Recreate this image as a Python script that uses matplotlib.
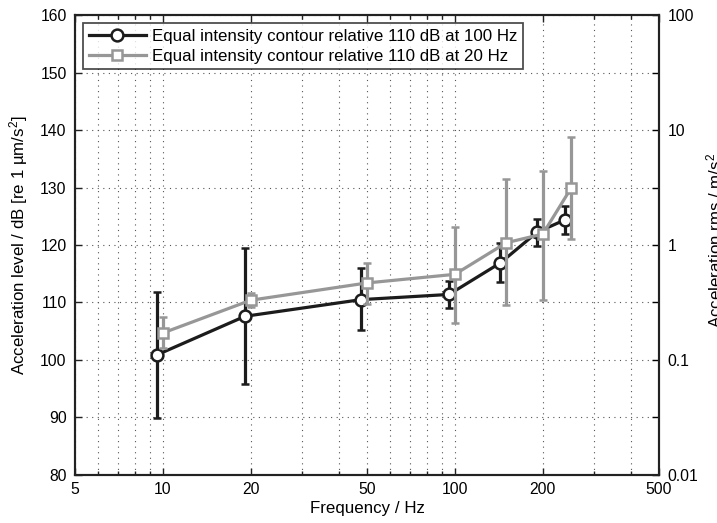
import numpy as np
import matplotlib
matplotlib.use("Agg")
import matplotlib.pyplot as plt
from matplotlib.lines import Line2D
from matplotlib.ticker import FixedLocator, NullFormatter, FixedFormatter

plt.rcParams['font.family'] = ['Liberation Sans', 'DejaVu Sans']
plt.rcParams['mathtext.fontset'] = 'custom'
plt.rcParams['mathtext.rm'] = 'Liberation Sans'
plt.rcParams['mathtext.it'] = 'Liberation Sans:italic'

# Stimulus frequencies (Hz)
freqs = [10, 20, 50, 100, 150, 200, 250]

# Equal intensity contour relative 110 dB at 100 Hz (dB re 1 um/s^2)
ref100_mean = [100.9, 107.6, 110.5, 111.4, 116.9, 122.2, 124.4]
ref100_upper = [111.9, 119.4, 116.0, 113.7, 120.3, 124.6, 126.8]
ref100_lower = [89.9, 95.8, 105.2, 109.0, 113.5, 119.8, 121.9]

# Equal intensity contour relative 110 dB at 20 Hz
ref20_mean = [104.7, 110.4, 113.4, 114.9, 120.4, 121.9, 129.9]
ref20_upper = [107.4, 111.6, 116.9, 123.2, 131.4, 132.8, 138.7]
ref20_lower = [102.0, 109.2, 109.8, 106.4, 109.6, 110.4, 121.0]

labels = ['Equal intensity contour relative 110 dB at 100 Hz',
          'Equal intensity contour relative 110 dB at 20 Hz']

xticks = [5, 10, 20, 50, 100, 200, 500]
yticks = [80, 90, 100, 110, 120, 130, 140, 150, 160]
right_ticks = [0.01, 0.1, 1, 10, 100]
right_ticklabels = ['0.01', '0.1', '1', '10', '100']

TICK_FS = 11.3
LABEL_FS = 12.2
BLACK = '#1c1c1c'
GREY = '#979797'

fig = plt.figure(figsize=(7.17, 5.23), dpi=100)
ax = fig.add_axes([0.1046, 0.0918, 0.8145, 0.8795])

def draw(mean, upper, lower, shift, color, marker, ms, z):
    m = np.array(mean)
    f = np.array(freqs) * shift
    yerr = [m - np.array(lower), np.array(upper) - m]
    ax.errorbar(f, m, yerr=yerr, color=color, lw=2.3, elinewidth=2.3,
                capsize=3.2, capthick=2.3, marker=marker, ms=ms,
                mfc='white', mec=color, mew=1.8, zorder=z)

draw(ref100_mean, ref100_upper, ref100_lower, 0.955, BLACK, 'o', 8.5, 3)
draw(ref20_mean, ref20_upper, ref20_lower, 1.0, GREY, 's', 6.8, 4)

ax.set_xscale('log')
ax.set_xlim(5, 500)
ax.set_ylim(80, 160)
ax.set_xticks(xticks)
ax.set_xticklabels([str(t) for t in xticks])
ax.xaxis.set_minor_locator(FixedLocator([6, 7, 8, 9, 30, 40, 60, 70, 80, 90, 300, 400]))
ax.xaxis.set_minor_formatter(NullFormatter())
ax.set_yticks(yticks)

ax.grid(True, which='both', axis='x', color='#555555', lw=0.8, ls=(0, (1, 4)))
ax.grid(True, which='major', axis='y', color='#555555', lw=0.8, ls=(0, (1, 4)))
ax.set_axisbelow(True)

ax.tick_params(which='both', direction='in', top=True, right=False,
               labelsize=TICK_FS, width=1.0, color='#222222')
ax.tick_params(which='major', length=5)
ax.tick_params(which='minor', length=3)
ax.tick_params(axis='y', pad=6)
ax.tick_params(axis='x', pad=5)
for s in ax.spines.values():
    s.set_linewidth(1.5)
    s.set_color('#222222')

ax.set_xlabel('Frequency / Hz', fontsize=LABEL_FS, labelpad=3)
ax.set_ylabel(r'Acceleration level / dB [re 1 µm/s$^2$]', fontsize=LABEL_FS, labelpad=7)

# Right axis: same scale expressed in m/s^2 rms
ax2 = ax.twinx()
ax2.set_yscale('log')
ax2.set_ylim(1e-6 * 10 ** (80 / 20), 1e-6 * 10 ** (160 / 20))
ax2.yaxis.set_major_locator(FixedLocator(right_ticks))
ax2.yaxis.set_major_formatter(FixedFormatter(right_ticklabels))
ax2.yaxis.set_minor_locator(FixedLocator([10 ** (k + 0.5) for k in range(-2, 2)]))
ax2.yaxis.set_minor_formatter(NullFormatter())
ax2.tick_params(which='both', direction='in', length=5, labelsize=TICK_FS,
                width=1.0, pad=6)
for s in ax2.spines.values():
    s.set_linewidth(1.5)
    s.set_color('#222222')
fig.text(705 / 717, 1 - 240 / 523, r'Acceleration rms / m/s$^2$',
         rotation=90, ha='left', va='center', fontsize=LABEL_FS)

handles = [
    Line2D([], [], color=BLACK, lw=2.3, marker='o', ms=8.5, mfc='white',
           mec=BLACK, mew=1.8),
    Line2D([], [], color=GREY, lw=2.3, marker='s', ms=6.8, mfc='white',
           mec=GREY, mew=1.8),
]
leg = ax.legend(handles, labels, loc='upper left', fontsize=LABEL_FS,
                frameon=True, fancybox=False, handlelength=3.4,
                borderpad=0.3, labelspacing=0.3, borderaxespad=0.5,
                handletextpad=0.35)
leg.get_frame().set_edgecolor('#222222')
leg.get_frame().set_linewidth(1.3)
leg.set_zorder(10)

fig.savefig('out.png', dpi=100)
